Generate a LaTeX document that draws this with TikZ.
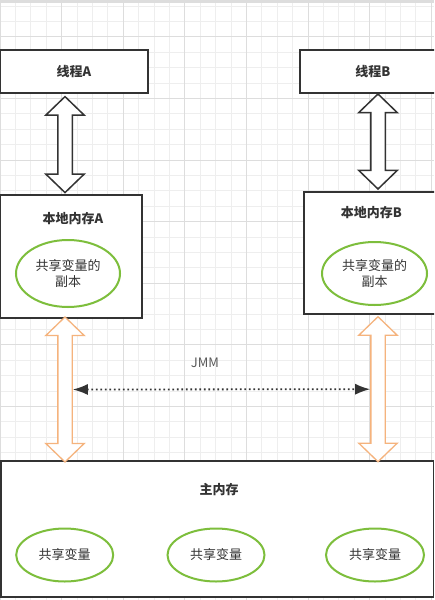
\documentclass[tikz,border=0pt]{standalone}
\usepackage{fontspec}
\usepackage{xcolor}
\usepackage{tikz}
\usetikzlibrary{shapes.geometric,shapes.arrows,arrows.meta}
\newfontfamily\cjk{Noto Sans CJK SC}
\definecolor{boxline}{HTML}{333333}
\definecolor{vargreen}{HTML}{7DBE3C}
\definecolor{syncorange}{HTML}{F5B37D}
\definecolor{gridminor}{HTML}{EEEEEE}
\definecolor{gridmajor}{HTML}{DDDDDD}
\tikzset{
    membox/.style={
        rectangle,
        draw=boxline,
        line width=1.5pt,
        fill=white,
        inner sep=0pt
    },
    title/.style={
        font=\cjk\bfseries\fontsize{13}{15}\selectfont,
        text=boxline,
        inner sep=0pt
    },
    var/.style={
        ellipse,
        draw=vargreen,
        line width=2pt,
        fill=white,
        align=center,
        inner sep=0pt,
        font=\cjk\fontsize{13}{16}\selectfont,
        text=boxline
    },
    dblarrow/.style={
        double arrow,
        rotate=90,
        fill=white,
        inner xsep=0pt,
        inner ysep=6.5pt,
        double arrow head extend=12pt,
        double arrow tip angle=92
    }
}
\tikzstyle{readwrite} = [dblarrow, draw=boxline, line width=1.5pt]
\tikzstyle{sync} = [dblarrow, draw=syncorange, line width=1.3pt]
\tikzstyle{jmmline} = [{Latex[length=15pt,width=11pt]}-{Latex[length=15pt,width=11pt]}, line width=1.8pt, draw=boxline, dash pattern=on 1.8pt off 2.7pt]

\begin{document}
\begin{tikzpicture}[x=1pt, y=-1pt]
          \useasboundingbox (0,0) rectangle (434,600);
          \clip (0,0) rectangle (434,600);
          \fill[white] (0,0) rectangle (434,600);
          % grid
          \foreach \gx in {0,15.4,...,440} \draw[gridminor, line width=0.8pt] (\gx,0) -- (\gx,600);
          \foreach \gy in {6,21.4,...,605} \draw[gridminor, line width=0.8pt] (0,\gy) -- (434,\gy);
          \foreach \gx in {0,61.6,...,440} \draw[gridmajor, line width=0.8pt] (\gx,0) -- (\gx,600);
          \foreach \gy in {36.8,98.4,...,605} \draw[gridmajor, line width=0.8pt] (0,\gy) -- (434,\gy);
          \fill[gridmajor] (0,0) rectangle (434,3);
          % threads
          \node (threadA) [membox, title, draw=boxline, fill=white, minimum width=148pt, minimum height=43pt] at (74,71.5) {线程A};
          \node (threadB) [membox, title, draw=boxline, fill=white, minimum width=146pt, minimum height=43pt] at (373,71.5) {线程B};
          % local memories
          \node (localA) [membox, minimum width=142pt, minimum height=123pt] at (71,256.5) {};
          \node (localAtitle) [title] at (73,219) {本地内存A};
          \node (copyA) [var, minimum width=104pt, minimum height=67pt] at (68,273.5) {共享变量的\\副本};
          \node (localB) [membox, minimum width=135pt, minimum height=122pt] at (371.5,253) {};
          \node (localBtitle) [title] at (371.5,212.5) {本地内存B};
          \node (copyB) [var, minimum width=105pt, minimum height=63pt] at (374.5,273.5) {共享变量的\\副本};
          % main memory
          \node (mainmem) [membox, minimum width=432.5pt, minimum height=136pt] at (217,529) {};
          \node (mainmemtitle) [title] at (219,490) {主内存};
          \node (var1) [var, minimum width=97pt, minimum height=53pt] at (64.7,555) {共享变量};
          \node (var2) [var, minimum width=97pt, minimum height=53pt] at (216,555) {共享变量};
          \node (var3) [var, minimum width=98pt, minimum height=53pt] at (375,555) {共享变量};
          % arrows
          \node (linkA) [readwrite, minimum height=96pt] at (65,144.6) {};
          \node (linkB) [readwrite, minimum height=95pt] at (378,141.5) {};
          \node (syncA) [sync, minimum height=145pt] at (65,389.5) {};
          \node (syncB) [sync, minimum height=145pt] at (378,389.2) {};
          \node (jmm) [font=\cjk\fontsize{13}{15}\selectfont, text=black!65, inner sep=0pt] at (205,362.7) {JMM};
          \draw [jmmline] (syncA) -- (syncB);
        \end{tikzpicture}
\end{document}
